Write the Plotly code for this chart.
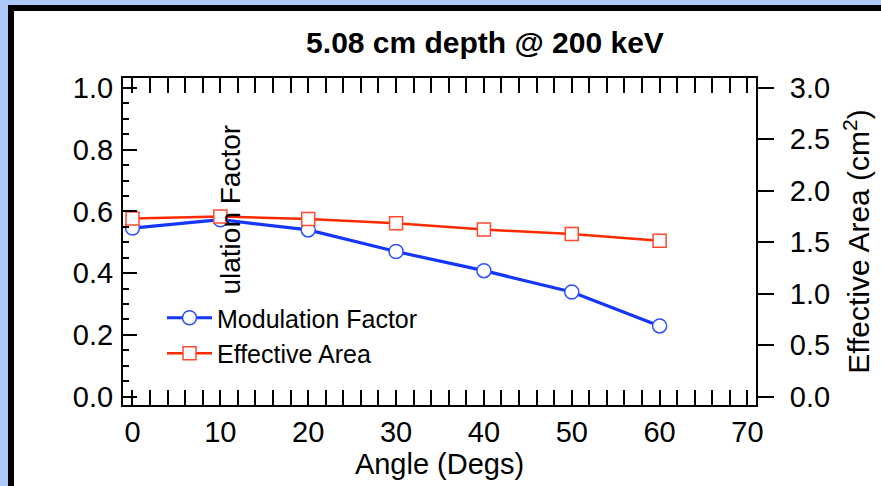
import plotly.graph_objects as go

# Response of the detector at 5.08 cm depth, 200 keV
angles = [0, 10, 20, 30, 40, 50, 60]
modulation_factor = [0.546, 0.573, 0.540, 0.470, 0.408, 0.339, 0.229]
effective_area = [1.73, 1.75, 1.725, 1.686, 1.623, 1.58, 1.514]

W, H = 881, 486
ML, MR, MT, MB = 123, 125, 78, 81
FONT = "Liberation Sans, Arial, sans-serif"
BLUE = "#1436ff"
RED = "#ff2a00"


def px_to_paper(px, py):
    pw = W - ML - MR
    ph = H - MT - MB
    return (px - ML) / pw, (H - MB - py) / ph


fig = go.Figure()

fig.add_trace(go.Scatter(
    x=angles, y=modulation_factor, name="Modulation Factor",
    mode="lines+markers",
    line=dict(color=BLUE, width=3.2),
    marker=dict(symbol="circle", size=14, color="white",
                line=dict(color="#3050ff", width=1.5)),
))
fig.add_trace(go.Scatter(
    x=angles, y=effective_area, name="Effective Area", yaxis="y2",
    mode="lines+markers",
    line=dict(color=RED, width=2.5),
    marker=dict(symbol="square", size=13, color="white",
                line=dict(color="#ff4a30", width=1.5)),
))

# slide-style frame: light blue surround, black edge, white panel
x0, y0 = px_to_paper(8, 5)
x1, y1 = px_to_paper(14, 11)
xe, ye = px_to_paper(W + 40, H + 40)
shapes = [
    dict(type="rect", xref="paper", yref="paper", x0=x0, y0=ye, x1=xe, y1=y0,
         fillcolor="black", line=dict(width=0), layer="below"),
    dict(type="rect", xref="paper", yref="paper", x0=x1, y0=ye, x1=xe, y1=y1,
         fillcolor="white", line=dict(width=0), layer="below"),
]

tx, ty = px_to_paper(230, 237)
lx, ly = px_to_paper(162, 295)

fig.update_layout(
    width=W, height=H,
    margin=dict(l=ML, r=MR, t=MT, b=MB),
    paper_bgcolor="#adc9f8",
    plot_bgcolor="rgba(0,0,0,0)",
    font=dict(family=FONT, color="black"),
    shapes=shapes,
    title=dict(text="<b>5.08 cm depth @ 200 keV</b>", font=dict(size=30),
               x=px_to_paper(485, 0)[0], xref="paper", xanchor="center",
               y=1 - 42 / H, yref="container", yanchor="middle"),
    xaxis=dict(
        range=[-1.08, 70.97], showgrid=False, zeroline=False,
        showline=True, linecolor="black", linewidth=2, mirror="allticks",
        ticks="inside", ticklen=15, tickwidth=2, tickcolor="black",
        tick0=0, dtick=10, tickfont=dict(size=29), ticklabelstandoff=0,
        minor=dict(ticks="inside", ticklen=7, tickwidth=2, tickcolor="black",
                   dtick=2, tick0=0, showgrid=False),
        title=dict(text="Angle (Degs)", font=dict(size=29), standoff=4),
        automargin=False,
    ),
    yaxis=dict(
        range=[-0.027, 1.032], showgrid=False, zeroline=False,
        showline=True, linecolor="black", linewidth=2, mirror=False,
        ticks="inside", ticklen=14, tickwidth=2, tickcolor="black",
        tick0=0, dtick=0.2, tickformat=".1f", tickfont=dict(size=29),
        ticklabelstandoff=2,
        minor=dict(ticks="inside", ticklen=6, tickwidth=2, tickcolor="black",
                   dtick=0.05, tick0=0, showgrid=False),
        automargin=False,
    ),
    yaxis2=dict(
        range=[-0.081, 3.096], overlaying="y", side="right",
        showgrid=False, zeroline=False,
        showline=True, linecolor="black", linewidth=2,
        ticks="outside", ticklen=16, tickwidth=2, tickcolor="black",
        tick0=0, dtick=0.5, tickformat=".1f", tickfont=dict(size=29),
        ticklabelstandoff=10,
        title=dict(text="Effective Area (cm<sup>2</sup>)", font=dict(size=30),
                   standoff=19),
        automargin=False,
    ),
    annotations=[dict(
        text="Modulation Factor", textangle=-90, showarrow=False,
        xref="paper", yref="paper", x=tx, y=ty,
        xanchor="center", yanchor="middle", font=dict(size=28),
    )],
    legend=dict(
        x=lx, y=ly, xanchor="left", yanchor="top",
        bgcolor="white", borderwidth=0, font=dict(size=25),
        tracegroupgap=0, itemwidth=45,
    ),
    showlegend=True,
)

# the legend box sits on top of the rotated axis label
raise_legend = """
var gd = document.getElementById('{plot_id}');
var lg = gd.querySelector('.infolayer .legend');
if (lg) { lg.parentNode.appendChild(lg); }
"""

fig.write_html("out.html", post_script=raise_legend)
